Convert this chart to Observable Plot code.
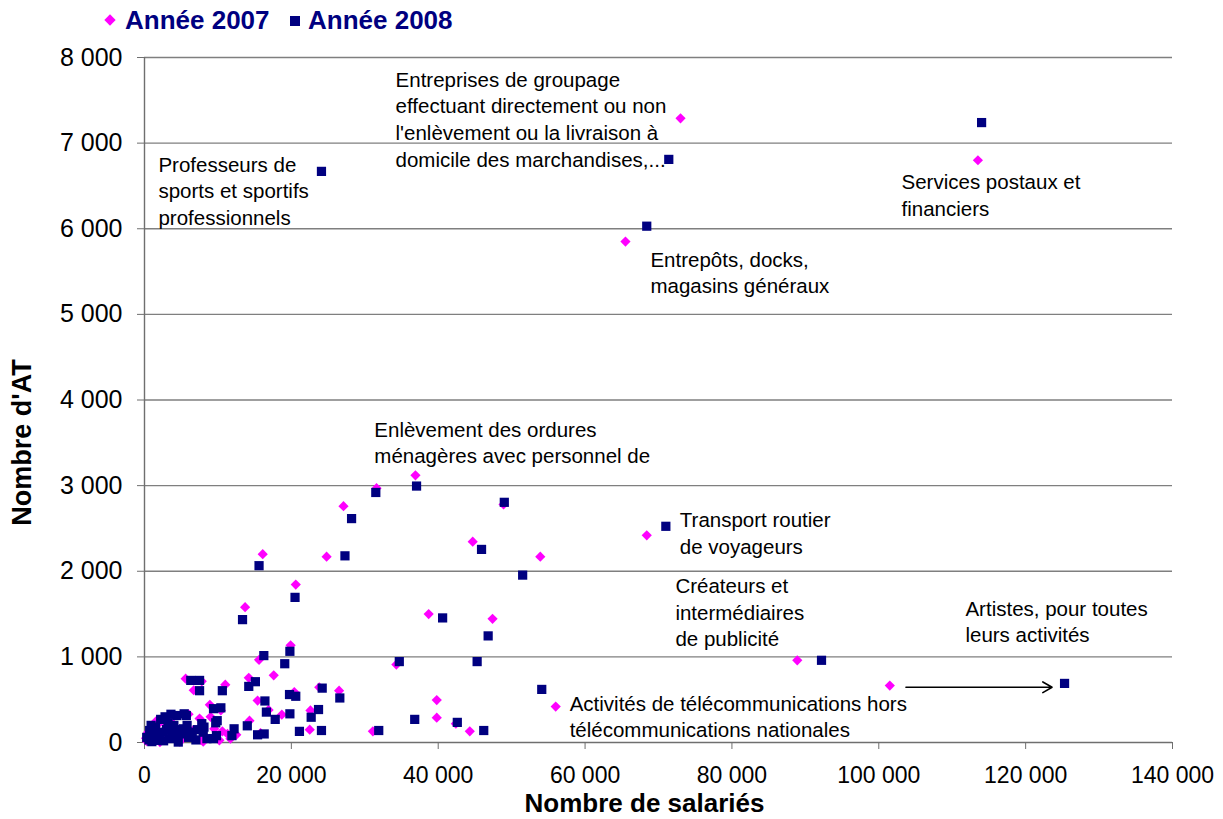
<!DOCTYPE html>
<html>
<head>
<meta charset="utf-8">
<script src="https://cdn.jsdelivr.net/npm/d3@7"></script>
<script src="https://cdn.jsdelivr.net/npm/@observablehq/plot@0.6"></script>
<style>
  body { margin: 0; background: #fff; font-family: "Liberation Sans", Arial, sans-serif; }
  #legend { position: relative; height: 40px; width: 1223px; font-weight: bold; font-size: 26px; color: #000080; }
  #legend .sym { position: absolute; }
  #legend .lbl { position: absolute; top: 0; line-height: 40px; white-space: nowrap; }
  #chart svg { display: block; }
</style>
</head>
<body>
<div id="legend">
  <div class="sym" style="left:106px;top:16px;width:8px;height:8px;background:#FF00FF;transform:rotate(45deg);"></div>
  <div class="lbl" style="left:125px;">Année 2007</div>
  <div class="sym" style="left:290px;top:16px;width:10px;height:10px;background:#000080;"></div>
  <div class="lbl" style="left:308px;">Année 2008</div>
</div>
<div id="chart"></div>
<script>
// ---- Data ----
const x2007 = [73000,113500,65500,36900,68400,88900,101500,56000,16100,20600,24800,27100,31600,44700,48900,53900,
  13700,19900,15600,17600,38700,47400,34300,39800,39800,42400,31100,44300,14200,11000,20400,15400,23800,16900,18700,
  22600,10400,14300,10600,15800,11700,22500,26500,5600,7800,6700,8900,7500,8000,10200,3700,6000,6600,4600,1900,3900,
  4800,300,2100,7700,11300,1200,2800,500,3000,9500,1600,3400,5300,12500,9000,200];
const y2007 = [7290,6800,5850,3120,2420,960,665,420,2200,1845,2170,2760,2970,2345,2780,2170,
  1580,1135,965,785,1500,1445,910,495,290,220,130,130,755,675,590,490,645,380,325,
  375,375,255,130,110,45,150,605,745,715,610,440,280,10,25,280,330,140,80,220,140,
  10,15,5,30,100,60,90,120,200,160,250,255,60,90,300,50];

const x2008 = [71400,114000,68400,24100,37050,71000,92200,125300,54100,15600,20500,27300,28200,31500,45900,49000,51500,
  13350,19800,16250,19100,40600,46800,34700,45300,36800,42600,31900,46200,15100,14200,10600,19750,20600,16400,24200,
  16600,17800,19800,23700,22700,10400,9900,14000,12200,11900,15400,16300,21100,24100,26600,6300,7500,7500,9400,7800,
  9700,8000,9800,4400,5700,2200,5300,6000,4600,700,2500,300,1600,3400,8100,9400,8500,5400,1000,2000,3000,3800,1200,
  600,2600,4000,5000,7000,3200,1500,2800,3600,4200,900,5800,6500,7200];
const y2008 = [6810,7240,6030,6670,2995,2525,960,690,620,2065,1695,2180,2615,2920,2255,2805,1955,
  1435,1065,1015,920,1455,1245,945,945,270,235,140,140,710,655,605,560,540,485,635,
  355,270,335,385,295,405,255,195,160,80,90,100,130,140,520,725,725,605,395,220,
  230,120,80,315,315,270,160,60,5,140,120,60,25,45,180,45,45,335,10,80,150,100,100,
  30,20,200,100,30,230,180,300,330,150,200,200,120,150];

const xTicks = [0,20000,40000,60000,80000,100000,120000,140000];
const yTicks = [0,1000,2000,3000,4000,5000,6000,7000,8000];

const annLabels = [
  "Entreprises de groupage\neffectuant directement ou non\nl'enlèvement ou la livraison à\ndomicile des marchandises,...",
  "Professeurs de\nsports et sportifs\nprofessionnels",
  "Services postaux et\nfinanciers",
  "Entrepôts, docks,\nmagasins généraux",
  "Enlèvement des ordures\nménagères avec personnel de",
  "Transport routier\nde voyageurs",
  "Créateurs et\nintermédiaires\nde publicité",
  "Artistes, pour toutes\nleurs activités",
  "Activités de télécommunications hors\ntélécommunications nationales"
];
const annX = [34190, 1900, 103100, 68900, 31300, 72900, 72300, 111800, 57900];
const annY = [7290, 6453, 6406, 5501, 3516, 2459, 1536, 1425, 315];

const arrowX1 = [103700], arrowX2 = [123600], arrowY = [645];

// ---- Build ----
const d2007 = x2007.map((x, i) => ({x, y: y2007[i]}));
const d2008 = x2008.map((x, i) => ({x, y: y2008[i]}));
const ann = annLabels.map((t, i) => ({t, x: annX[i], y: annY[i]}));
const arrows = arrowX1.map((x1, i) => ({x1, x2: arrowX2[i], y: arrowY[i]}));

const fr = d3.formatLocale({decimal: ",", thousands: " ", grouping: [3], currency: ["", ""]}).format(",");
const fmt = d => fr(d);

const plot = Plot.plot({
  width: 1223,
  height: 779,
  marginLeft: 144,
  marginRight: 51,
  marginTop: 17,
  marginBottom: 77,
  style: {fontFamily: "'Liberation Sans', Arial, sans-serif", fontSize: "24px", color: "#000", background: "#fff"},
  x: {domain: [0, 140000]},
  y: {domain: [0, 8000]},
  marks: [
    Plot.ruleY(yTicks.filter(d => d > 0), {stroke: "#7f7f7f", strokeWidth: 1.4}),
    Plot.ruleY([0], {stroke: "#6f6f6f", strokeWidth: 1.4}),
    Plot.ruleX([0], {stroke: "#6f6f6f", strokeWidth: 1.4}),
    Plot.axisX({ticks: xTicks, tickFormat: fmt, tickSize: 7, tickPadding: 17, label: null, stroke: "#6f6f6f", fill: "#000", fontSize: 23}),
    Plot.axisY({ticks: yTicks, tickFormat: fmt, tickSize: 7, tickPadding: 15, label: null, stroke: "#6f6f6f", fill: "#000", fontSize: 25}),
    Plot.dot(d2007, {x: "x", y: "y", symbol: "diamond2", r: 4.6, fill: "#FF00FF", stroke: "none"}),
    Plot.dot(d2008, {x: "x", y: "y", symbol: "square", r: 5.2, fill: "#000080", stroke: "none"}),
    Plot.text(ann, {x: "x", y: "y", text: "t", textAnchor: "start", lineAnchor: "middle", lineHeight: 1.3, fontSize: 20.5, fill: "#000"}),
    Plot.arrow(arrows, {x1: "x1", x2: "x2", y1: "y", y2: "y", stroke: "#000", strokeWidth: 1.6, headLength: 10}),
    Plot.text(["Nombre de salariés"], {frameAnchor: "bottom", dx: -14, dy: 61, lineAnchor: "middle", fontSize: 26, fontWeight: "bold", fill: "#000"}),
    Plot.text(["Nombre d'AT"], {frameAnchor: "bottom-left", dx: -122, dy: -300, rotate: -90, lineAnchor: "middle", textAnchor: "middle", fontSize: 27, fontWeight: "bold", fill: "#000"})
  ]
});
document.getElementById("chart").appendChild(plot);
</script>
</body>
</html>
